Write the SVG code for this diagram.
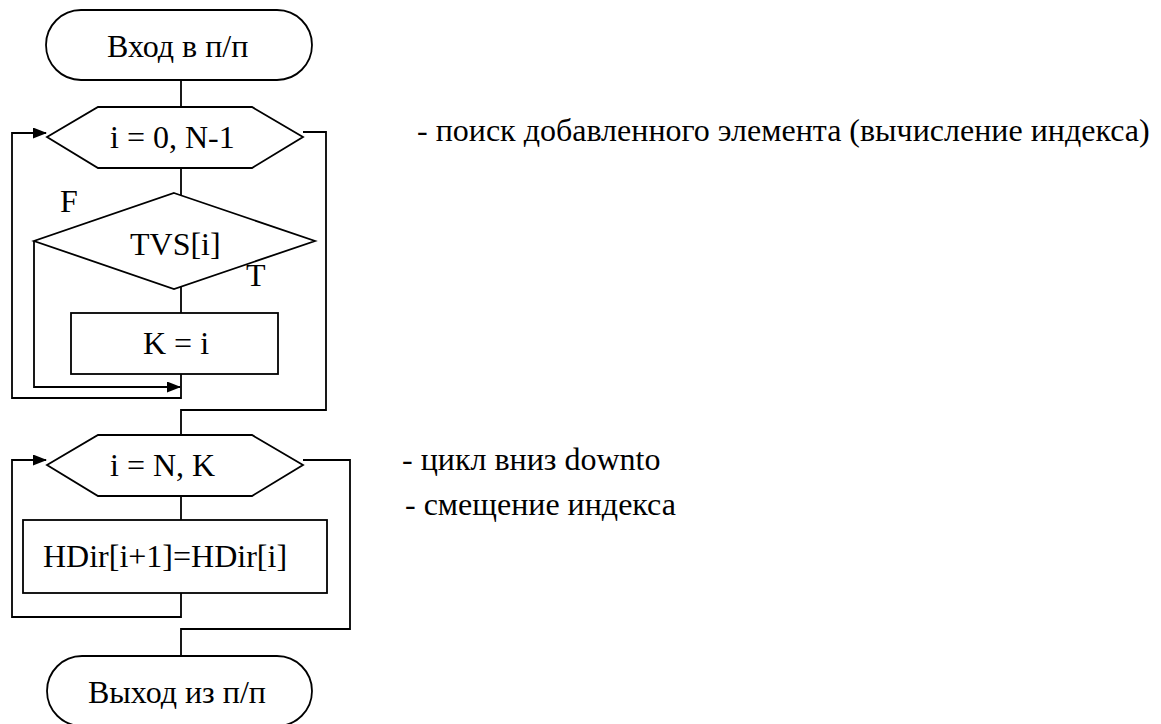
<svg xmlns="http://www.w3.org/2000/svg" width="1161" height="724" viewBox="0 0 1161 724">
  <style>
    .shape { fill: #ffffff; stroke: #000000; stroke-width: 1.8; }
    .wire { fill: none; stroke: #000000; stroke-width: 1.8; }
    .lbl { font-family: 'Liberation Serif', 'DejaVu Serif', serif; font-size: 32px; fill: #000000; }
  </style>
  <defs>
    <marker id="arrow" markerWidth="14" markerHeight="11" refX="13" refY="5.5" orient="auto" markerUnits="userSpaceOnUse">
      <path d="M0,0 L14,5.5 L0,11 Z" fill="#000000"/>
    </marker>
  </defs>
  <rect width="1161" height="724" fill="#ffffff"/>

  <!-- connectors -->
  <g id="connectors">
    <line class="wire" x1="181" y1="80" x2="181" y2="107"/>
    <line class="wire" x1="181" y1="168" x2="181" y2="195"/>
    <line class="wire" x1="181" y1="287" x2="181" y2="313"/>
    <!-- F branch bypassing the assignment -->
    <polyline class="wire" points="34,241 34,387 180,387" marker-end="url(#arrow)"/>
    <!-- first loop back edge -->
    <polyline class="wire" points="181,374 181,398 12,398 12,133 46,133" marker-end="url(#arrow)"/>
    <!-- first loop exit -->
    <polyline class="wire" points="303,132 326,132 326,410 181,410 181,435"/>
    <line class="wire" x1="181" y1="496" x2="181" y2="520"/>
    <!-- second loop back edge -->
    <polyline class="wire" points="181,593 181,617 12,617 12,460 46,460" marker-end="url(#arrow)"/>
    <!-- second loop exit -->
    <polyline class="wire" points="303,460 350,460 350,629 181,629 181,656"/>
  </g>

  <g font-family="Liberation Serif, DejaVu Serif, serif" font-size="32">
    <g id="start">
      <rect class="shape" x="46" y="10" width="266" height="70" rx="35" ry="35"/>
      <text class="lbl" x="107" y="57">Вход в п/п</text>
    </g>

    <g id="loop1">
      <polygon class="shape" points="47,137 98,107 252,107 303,137 252,168 98,168"/>
      <text class="lbl" x="110" y="148">i = 0, N-1</text>
    </g>

    <g id="cond">
      <polygon class="shape" points="174,193 315,241 174,289 34,241"/>
      <text class="lbl" x="130" y="255">TVS[i]</text>
      <text class="lbl" x="60" y="212">F</text>
      <text class="lbl" x="246" y="286">T</text>
    </g>

    <g id="assign">
      <rect class="shape" x="71" y="313" width="207" height="61"/>
      <text class="lbl" x="143" y="354">K = i</text>
    </g>

    <g id="loop2">
      <polygon class="shape" points="47,465 98,435 252,435 303,465 252,496 98,496"/>
      <text class="lbl" x="110" y="476">i = N, K</text>
    </g>

    <g id="shift">
      <rect class="shape" x="23" y="520" width="304" height="73"/>
      <text class="lbl" x="43" y="567">HDir[i+1]=HDir[i]</text>
    </g>

    <g id="end">
      <rect class="shape" x="47" y="656" width="265" height="70" rx="35" ry="35"/>
      <text class="lbl" x="88" y="703">Выход из п/п</text>
    </g>

    <g id="notes">
      <text class="lbl" x="417" y="141">- поиск добавленного элемента (вычисление индекса)</text>
      <text class="lbl" x="402" y="470">- цикл вниз downto</text>
      <text class="lbl" x="405" y="515">- смещение индекса</text>
    </g>
  </g>
</svg>
